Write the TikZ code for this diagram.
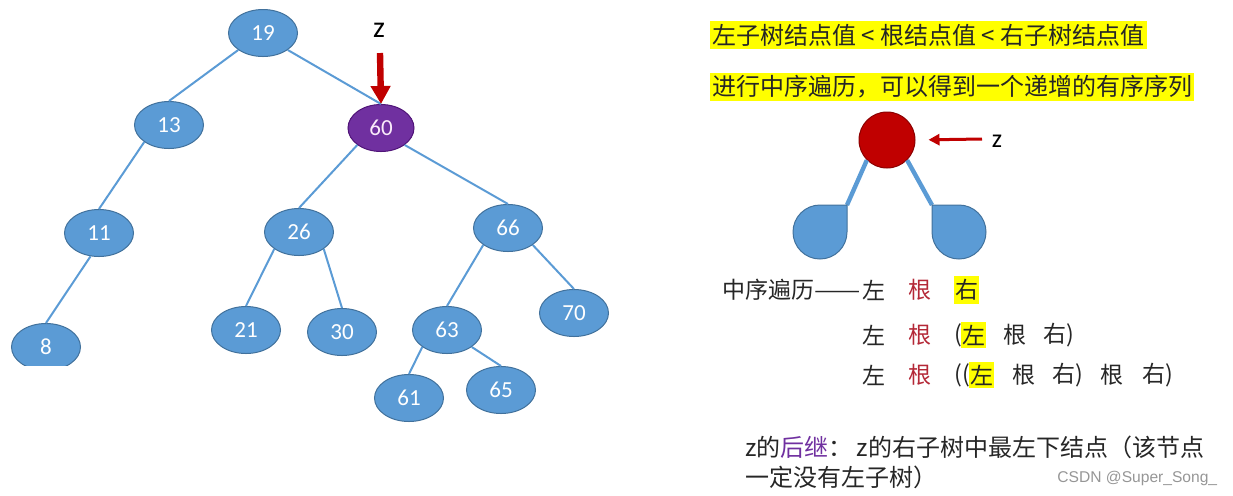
\documentclass[tikz,border=0pt]{standalone}
\usepackage{fontspec}
\usepackage{graphicx}
\setmainfont{Carlito}
\newfontfamily\cjk{Noto Sans CJK SC}
\newfontfamily\wmfont{Liberation Sans}
\usetikzlibrary{shapes.geometric,arrows.meta}
\definecolor{nodeblue}{HTML}{5B9BD5}
\definecolor{nodeborder}{HTML}{41719C}
\definecolor{darkred}{HTML}{C00000}
\definecolor{circborder}{RGB}{140,0,0}
\definecolor{zpurple}{HTML}{7030A0}
\definecolor{purpleborder}{RGB}{80,20,120}
\definecolor{rootred}{RGB}{180,40,55}
\definecolor{txt}{HTML}{262626}
\definecolor{hl}{HTML}{FFFF00}
\definecolor{wmgray}{RGB}{150,150,150}
\begin{document}
\begin{tikzpicture}[x=0.5pt,y=-0.5pt,
  bst/.style={ellipse, fill=nodeblue, draw=nodeborder, line width=0.5pt,
    minimum width=34.5pt, minimum height=23.5pt, inner sep=0pt, text=white,
    font=\fontsize{11.5}{13}\selectfont},
  zbst/.style={bst, fill=zpurple, draw=purpleborder, minimum width=33pt, text={rgb,255:red,250;green,235;blue,250}},
  treeline/.style={draw=nodeblue, line width=1pt},
  tok/.style={anchor=west, inner sep=0pt, text=txt, font=\cjk\fontsize{11.5}{13}\selectfont},
  rtok/.style={tok, text=rootred},
  htok/.style={tok, fill=hl, inner xsep=0.5pt, inner ysep=1.5pt},
  headline/.style={anchor=west, fill=hl, inner xsep=1pt, inner ysep=1.5pt, text=txt, font=\cjk\fontsize{12}{14}\selectfont},
  zlabel/.style={inner sep=0pt, text=black},
  blob/.style={fill=nodeblue, draw=nodeborder, line width=0.5pt},
  note/.style={anchor=west, inner sep=0pt, text=txt, font=\cjk\fontsize{12}{15}\selectfont}
]
\useasboundingbox (0,0) rectangle (1233,495);

% ---------- tree ----------
\node[bst] (n19) at (263,33) {19};
\node[bst] (n13) at (169,125) {13};
\node[zbst] (n60) at (381,128) {60};
\node[bst] (n11) at (99,233) {11};
\node[bst] (n26) at (299,232) {26};
\node[bst] (n66) at (508,228) {66};
\begin{scope}
  \clip (0,0) rectangle (1233,365);
  \node[bst] (n8) at (46,347) {8};
\end{scope}
\node[bst] (n21) at (246,330) {21};
\node[bst] (n30) at (342,332) {30};
\node[bst] (n63) at (447,330) {63};
\node[bst] (n70) at (574,313) {70};
\node[bst] (n61) at (409,398) {61};
\node[bst] (n65) at (501,390) {65};

\draw[treeline] (n19.south west) -- (n13.north);
\draw[treeline] (n19.south east) -- (n60.north);
\draw[treeline] (n13.south west) -- (n11.north);
\draw[treeline] (n11.250) -- (n8.north);
\draw[treeline] (n60.south west) -- (n26.north);
\draw[treeline] (n60.south east) -- (n66.north);
\draw[treeline] (n26.south west) -- (n21.north);
\draw[treeline] (n26.south east) -- (n30.north);
\draw[treeline] (n66.south west) -- (n63.north);
\draw[treeline] (n66.south east) -- (n70.north);
\draw[treeline] (n63.south west) -- (n61.north);
\draw[treeline] (n63.south east) -- (n65.north);

\node[zlabel, font=\fontsize{15}{17}\selectfont] (zt) at (379,30) {z};
\coordinate (zs) at (380,53);
\draw[darkred, line width=3.2pt, -{Triangle[width=9.5pt,length=9pt]}] (zs) -- (n60.north);

% ---------- headings ----------
\node[headline] (h1) at (710,35) {左子树结点值 < 根结点值 < 右子树结点值};
\node[headline] (h2) at (710,87) {进行中序遍历，可以得到一个递增的有序序列};

% ---------- small schematic ----------
\node[circle, fill=darkred, draw=circborder, line width=0.5pt, minimum size=28pt, inner sep=0pt] (zc) at (887,140) {};
\coordinate (lc) at (847,205);
\coordinate (rc) at (932,205);
\draw[draw=nodeblue, line width=2.2pt] (zc.south west) -- (lc);
\draw[draw=nodeblue, line width=2.2pt] (zc.south east) -- (rc);
\draw[blob] (820,205) -- (lc) -- (847,232) arc[start angle=0, end angle=-270, radius=13.5pt] -- cycle;
\draw[blob] (rc) -- (959,205) arc[start angle=90, end angle=-180, radius=13.5pt] -- cycle;
\coordinate (za) at (982,139);
\draw[darkred, line width=1.5pt, shorten >=6.5pt, -{Triangle[width=5.5pt,length=5.5pt]}] (za) -- (zc.east);
\node[zlabel, font=\fontsize{13}{15}\selectfont] (zr) at (997,141) {z};

% ---------- in-order rows ----------
\node[tok] (r1a) at (722,290) {中序遍历\scalebox{1.2}[1]{——}};
\node[tok] (r1b) at (862,290) {左};
\node[rtok] (r1c) at (908,290) {根};
\node[htok] (r1d) at (954,290) {右};

\node[tok] (r2a) at (862,335) {左};
\node[rtok] (r2b) at (908,335) {根};
\node[tok] (r2c) at (954,335) {(};
\node[htok] (r2d) at (961,335) {左};
\node[tok] (r2e) at (1003,335) {根};
\node[tok] (r2f) at (1043,335) {右)};

\node[tok] (r3a) at (862,375) {左};
\node[rtok] (r3b) at (908,375) {根};
\node[tok] (r3c) at (954,375) {((};
\node[htok] (r3d) at (969,375) {左};
\node[tok] (r3e) at (1012,375) {根};
\node[tok] (r3f) at (1052,375) {右)};
\node[tok] (r3g) at (1100,375) {根};
\node[tok] (r3h) at (1142,375) {右)};

% ---------- note ----------
\node[note] (t1) at (745,447) {z的\textcolor{zpurple}{后继}：\,z的右子树中最左下结点（该节点};
\node[note] (t2) at (745,477) {一定没有左子树）};
\node[anchor=west, inner sep=0pt, text=wmgray, font=\wmfont\fontsize{7.8}{9}\selectfont] (wm) at (1057,478) {CSDN @Super\_Song\_};
\end{tikzpicture}
\end{document}
